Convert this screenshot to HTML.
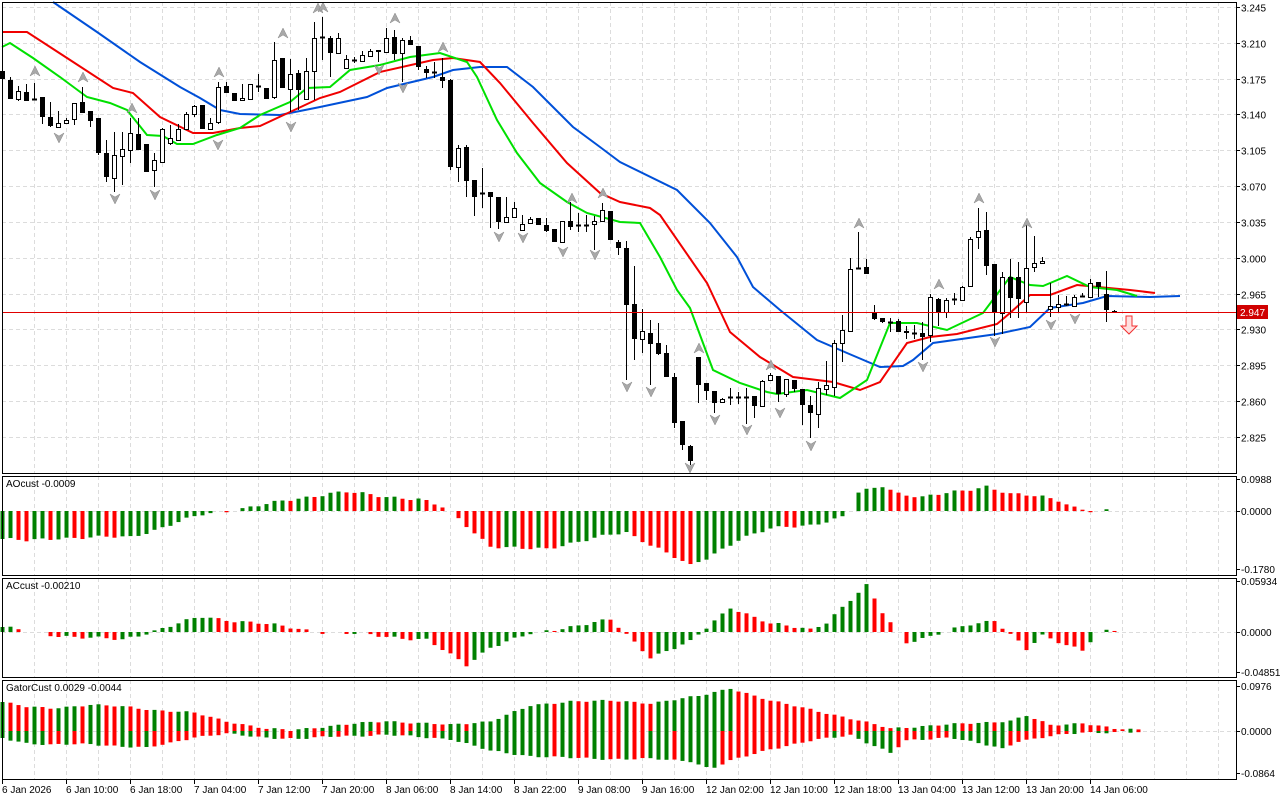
<!DOCTYPE html>
<html><head><meta charset="utf-8"><style>
html,body{margin:0;padding:0;background:#fff;}
svg{display:block;font-family:"Liberation Sans",sans-serif;}
</style></head><body>
<svg id="s" width="1280" height="800" xmlns="http://www.w3.org/2000/svg"></svg>
<script>
const S=document.getElementById('s');let h='';
const C=[[2,71,79,70,80],[10,80,99,77,99],[18,99,91,86,101],[26,92,101,84,101],[34,99,99,83,100],[42,97,117,97,124],[50,117,126,102,127],[58,127,123,111,128],[66,123,120,118,123],[74,119,103,103,125],[82,102,113,87,113],[90,111,121,111,127],[98,118,153,118,155],[106,153,177,140,182],[114,178,155,132,192],[122,156,149,132,185],[130,150,133,118,163],[138,134,150,118,150],[146,144,172,144,172],[154,170,160,153,187],[162,162,129,128,162],[170,143,138,125,145],[178,140,129,124,140],[186,129,114,112,130],[194,114,106,105,117],[202,105,129,105,129],[210,129,123,118,130],[218,122,87,82,124],[226,86,93,82,93],[234,93,101,93,101],[242,100,98,84,101],[250,99,84,84,99],[258,86,86,74,92],[266,88,99,88,99],[274,97,60,42,99],[282,58,88,58,88],[290,89,74,59,112],[298,73,90,70,110],[306,99,71,58,100],[314,71,38,22,100],[322,37,37,17,60],[330,38,53,36,77],[338,53,38,33,53],[346,68,59,55,68],[354,60,60,57,63],[362,61,55,51,61],[370,56,51,49,56],[378,50,52,50,62],[386,52,38,28,52],[394,37,54,30,60],[402,53,40,38,82],[410,40,45,36,45],[418,46,67,46,70],[426,69,73,66,78],[434,72,72,62,78],[442,77,81,58,88],[450,80,167,79,170],[458,167,148,145,182],[466,147,181,145,197],[474,180,197,180,216],[482,193,193,168,208],[490,192,197,192,228],[498,197,222,197,229],[506,222,217,197,222],[514,217,208,202,217],[522,230,224,215,230],[530,223,219,217,223],[538,218,225,218,225],[546,225,231,218,232],[554,229,242,229,242],[562,242,221,221,242],[570,221,227,202,230],[578,225,225,213,232],[586,225,225,215,232],[594,224,221,216,250],[602,221,210,203,222],[610,211,240,211,240],[618,242,248,240,255],[626,248,305,241,380],[634,304,339,266,360],[642,339,331,309,353],[650,333,344,320,385],[658,343,354,323,355],[666,353,377,345,377],[674,377,423,373,428],[682,421,445,421,450],[690,446,461,445,465],[698,357,385,357,403],[706,383,391,383,400],[714,391,403,391,413],[722,402,399,398,403],[730,397,397,388,405],[738,397,397,392,404],[746,397,397,388,424],[754,396,406,396,418],[762,406,381,380,406],[770,380,375,373,380],[778,376,394,376,402],[786,394,379,379,397],[794,380,389,380,392],[802,389,405,389,425],[810,405,413,396,438],[818,414,388,382,428],[826,389,385,361,395],[834,387,343,340,396],[842,343,330,315,362],[850,331,269,258,331],[858,268,268,232,268],[866,267,274,259,274],[874,313,319,305,320],[882,318,322,318,323],[890,322,322,318,332],[898,321,332,319,332],[906,331,333,326,339],[914,333,333,325,339],[922,333,337,322,360],[930,335,297,294,342],[938,299,312,298,326],[946,312,300,298,318],[954,299,299,293,305],[962,300,287,286,300],[970,286,239,237,286],[978,237,231,208,249],[986,230,266,212,275],[994,264,312,264,336],[1002,313,277,272,334],[1010,277,298,259,318],[1018,277,299,262,318],[1026,302,268,220,312],[1034,267,263,236,272],[1042,263,261,257,264],[1050,309,306,283,317],[1058,307,304,295,312],[1066,304,304,296,306],[1074,306,297,295,306],[1082,296,296,293,297],[1090,297,283,279,297],[1098,282,287,282,297],[1106,294,310,271,322],[1114,311,313,310,313]];
// frame & grid
h+='<rect x="0" y="0" width="1280" height="800" fill="#fff"/>';
const panels=[[2,473],[476,575],[578,677],[680,779]];
for(const [t,b] of panels){for(let x=34;x<1236;x+=32)h+=`<line x1="${x+.5}" y1="${t}" x2="${x+.5}" y2="${b}" stroke="#dcdcdc" stroke-dasharray="4,3"/>`;}
const ylab=['3.245','3.210','3.175','3.140','3.105','3.070','3.035','3.000','2.965','2.930','2.895','2.860','2.825'];
ylab.forEach((l,i)=>{const y=Math.round(7+i*35.83)+.5;h+=`<line x1="2" y1="${y}" x2="1236" y2="${y}" stroke="#dcdcdc" stroke-dasharray="4,3"/><line x1="1236" y1="${y}" x2="1240" y2="${y}" stroke="#000"/><text x="1241" y="${y+4}" font-size="10">${l}</text>`;});
// sub axes
const sub=[[479,'0.0988'],[511,'0.0000'],[569,'-0.1780'],[581,'0.05934'],[632,'0.0000'],[672,'-0.04851'],[686,'0.0976'],[731,'0.0000'],[773,'-0.0864']];
sub.forEach(([y,l])=>{h+=`<line x1="1236" y1="${y+.5}" x2="1240" y2="${y+.5}" stroke="#000"/><text x="1241" y="${y+4}" font-size="10">${l}</text>`;});
[511,632,731].forEach(y=>h+=`<line x1="2" y1="${y+.5}" x2="1236" y2="${y+.5}" stroke="#dcdcdc" stroke-dasharray="4,3"/>`);
// alligator lines
function pl(p,c){h+=`<polyline points="${p}" fill="none" stroke="${c}" stroke-width="2"/>`;}
pl("53,2 97,32 140,62 180,87 200,98 220,110 240,114 280,115 320,107 367,97 387,88 433,77 453,70 480,67 507,67 533,87 553,107 573,127 600,147 620,162 677,190 710,223 737,257 753,287 780,310 817,340 847,353 880,367 903,366 913,360 933,343 997,334 1030,327 1050,308 1083,303 1107,296 1150,297 1180,296","#0050d8");
pl("2,32 27,32 67,58 113,88 133,93 160,117 193,133 213,133 240,128 260,126 320,98 340,92 380,72 433,60 453,58 480,62 500,83 533,123 567,163 600,193 620,202 650,208 660,215 707,283 730,332 760,357 793,377 833,382 860,390 880,382 907,343 930,337 957,334 997,324 1010,313 1030,295 1050,295 1077,285 1130,290 1155,293","#f00000");
pl("2,47 10,43 33,58 60,77 87,97 110,103 127,110 147,135 163,136 177,144 193,144 217,135 240,128 260,115 290,102 307,88 330,87 350,70 380,65 410,57 440,53 467,62 477,77 497,120 517,153 540,183 567,202 587,213 620,222 640,223 660,257 677,290 690,308 713,370 740,383 767,392 777,394 807,390 840,398 867,380 890,323 917,323 947,330 983,313 1010,277 1030,285 1043,286 1067,276 1090,287 1117,290 1137,296","#00e000");
// candles
for(const [x,o,c,hi,lo] of C){h+=`<line x1="${x+.5}" y1="${hi}" x2="${x+.5}" y2="${lo}" stroke="#000"/>`;
 if(Math.abs(o-c)<2)h+=`<line x1="${x-2}" y1="${o+.5}" x2="${x+3}" y2="${o+.5}" stroke="#000" stroke-width="2"/>`;
 else if(c<o)h+=`<rect x="${x-1.5}" y="${c+.5}" width="4" height="${o-c}" fill="#fff" stroke="#000"/>`;
 else h+=`<rect x="${x-2}" y="${o}" width="5" height="${c-o}" fill="#000"/>`;}
// fractals
const up=[[35,71],[83,77],[132,108],[219,72],[283,33],[318,8],[323,7],[395,18],[443,47],[572,198],[603,193],[699,348],[771,365],[859,223],[939,284],[979,198],[1027,223]];
const dn=[[59,138],[115,199],[155,195],[218,145],[291,127],[379,70],[403,88],[499,237],[523,238],[563,252],[595,255],[627,387],[651,392],[715,420],[747,430],[780,413],[811,446],[690,468],[923,367],[995,342],[1051,325],[1075,319]];
up.forEach(([x,y])=>h+=`<polygon points="${x},${y-5} ${x+5},${y+5} ${x},${y+2} ${x-5},${y+5}" fill="#a8a8a8" stroke="#888" stroke-width=".5"/>`);
dn.forEach(([x,y])=>h+=`<polygon points="${x},${y+5} ${x+5},${y-5} ${x},${y-2} ${x-5},${y-5}" fill="#a8a8a8" stroke="#888" stroke-width=".5"/>`);
// price line & sell arrow
h+=`<line x1="2" y1="312.5" x2="1236" y2="312.5" stroke="#e00000"/><rect x="1237" y="305" width="31" height="14" fill="#d00000"/><text x="1240" y="316" font-size="10" fill="#fff">2.947</text>`;
h+=`<polygon points="1126,316 1132,316 1132,326 1137,326 1129,334 1121,326 1126,326" fill="#ffe0e0" stroke="#f03030"/>`;
// histogram helpers
function interp(k,x){if(x<=k[0][0])return k[0][1];for(let i=1;i<k.length;i++)if(x<=k[i][0]){const a=k[i-1],b=k[i];return a[1]+(b[1]-a[1])*(x-a[0])/(b[0]-a[0]);}return k[k.length-1][1];}
function wig(i){return Math.sin(i*1.7)*1.2+Math.sin(i*0.6)*0.8;}
function hist(k,zero,n,top,bot){let prev=null;for(let i=0;i<n;i++){const x=2+8*i;let v=interp(k,x)+wig(i);const col=(prev===null||v>=prev)?'#008000':'#ff0000';prev=v;const y1=Math.max(top,Math.min(zero,zero-v)),y2=Math.min(bot,Math.max(zero,zero-v));if(y2-y1<1)continue;h+=`<rect x="${x-1.5}" y="${y1}" width="4" height="${y2-y1}" fill="${col}"/>`;}}
hist([[2,-28],[26,-30],[58,-27],[130,-26],[154,-19],[200,-4],[226,0],[250,4],[330,18],[346,19],[378,15],[420,12],[446,2],[458,-8],[490,-35],[522,-38],[546,-38],[570,-32],[610,-24],[626,-22],[660,-38],[690,-55],[706,-48],[740,-27],[770,-18],[810,-14],[842,-6],[850,0],[858,18],[882,25],[898,18],[922,14],[962,20],[986,25],[1010,17],[1042,14],[1058,11],[1074,4],[1090,0],[1114,0]],511,140,477,574);
hist([[2,5],[50,-3],[122,-8],[200,15],[258,9],[320,0],[370,-3],[426,-8],[466,-33],[490,-15],[530,-2],[578,7],[610,12],[650,-25],[690,-10],[730,25],[770,8],[810,3],[826,10],[866,46],[882,20],[906,-10],[930,-5],[970,8],[994,12],[1018,-10],[1026,-18],[1042,-4],[1074,-15],[1082,-18],[1098,0],[1114,1]],632,140,579,676);
function gator(k,sign){let prev=null;for(let i=0;i<145;i++){const x=2+8*i;let v=Math.abs(interp(k,x)+wig(i)*.6);const col=(prev===null||v>=prev)?'#008000':'#ff0000';prev=v;if(v<1)continue;const y=sign>0?731-v:731;h+=`<rect x="${x-1.5}" y="${y}" width="4" height="${v}" fill="${col}"/>`;}}
gator([[2,29],[26,24],[50,23],[90,26],[130,24],[154,21],[194,18],[226,10],[266,2],[290,1],[330,5],[386,10],[450,6],[490,10],[530,25],[570,30],[610,30],[650,28],[700,35],[730,43],[770,30],[810,22],[850,12],[890,3],[930,5],[970,8],[1010,10],[1026,15],[1050,6],[1082,8],[1114,2],[1154,1]],1);
gator([[2,7],[26,12],[50,14],[90,13],[130,16],[146,17],[170,12],[194,6],[226,3],[258,6],[300,8],[340,5],[386,4],[420,6],[450,8],[490,20],[530,25],[570,27],[610,28],[650,28],[690,30],[710,38],[730,30],[770,18],[810,10],[850,4],[890,22],[906,10],[950,6],[1002,18],[1018,10],[1050,5],[1082,2],[1114,1],[1154,1]],-1);
// borders
for(const [t,b] of panels)h+=`<rect x="2.5" y="${t+.5}" width="1234" height="${b-t}" fill="none" stroke="#000"/>`;
h+=`<text x="6" y="487" font-size="10">AOcust -0.0009</text><text x="6" y="589" font-size="10">ACcust -0.00210</text><text x="6" y="691" font-size="10">GatorCust 0.0029 -0.0044</text>`;
const tl=['6 Jan 2026','6 Jan 10:00','6 Jan 18:00','7 Jan 04:00','7 Jan 12:00','7 Jan 20:00','8 Jan 06:00','8 Jan 14:00','8 Jan 22:00','9 Jan 08:00','9 Jan 16:00','12 Jan 02:00','12 Jan 10:00','12 Jan 18:00','13 Jan 04:00','13 Jan 12:00','13 Jan 20:00','14 Jan 06:00'];
tl.forEach((l,i)=>{const x=2+64*i;h+=`<line x1="${x+.5}" y1="780" x2="${x+.5}" y2="784" stroke="#000"/><text x="${x}" y="793" font-size="10">${l}</text>`;});
S.innerHTML=h;
</script>
</body></html>
